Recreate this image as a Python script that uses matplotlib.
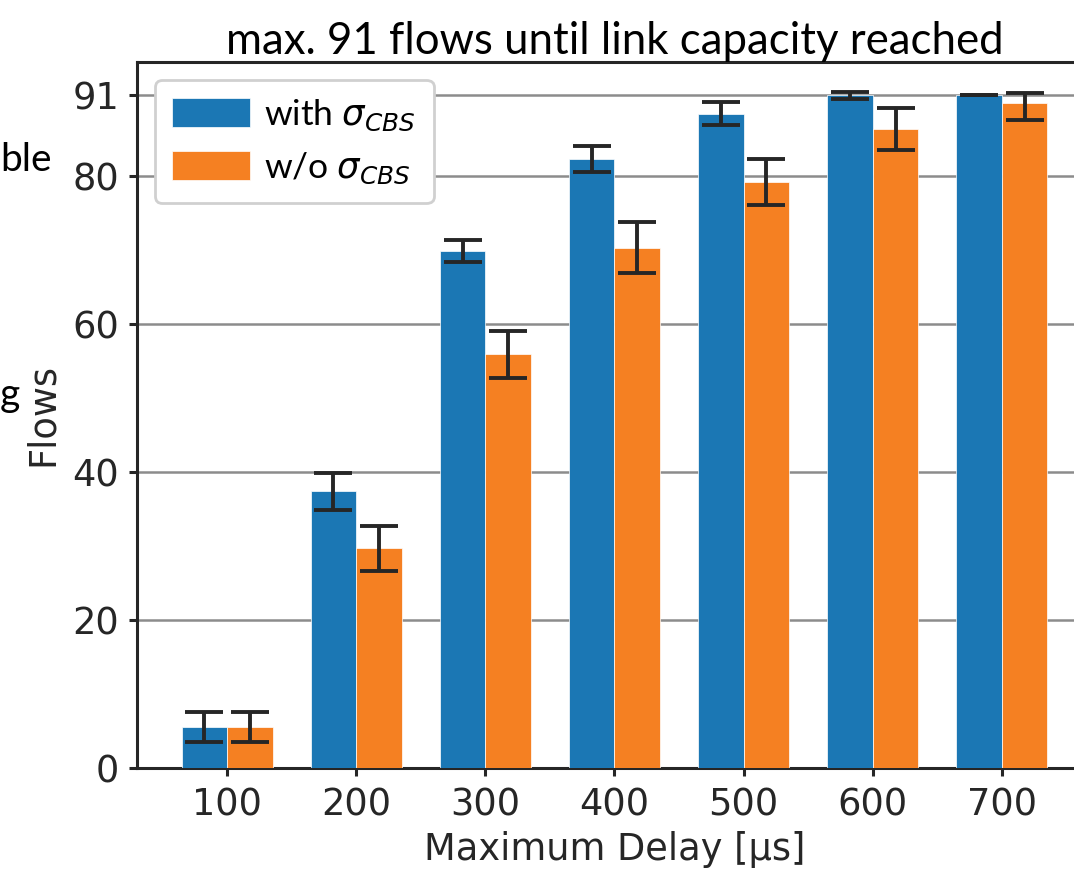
import numpy as np
import matplotlib.pyplot as plt

delays = [100, 200, 300, 400, 500, 600, 700]
with_cbs = [5.5, 37.4, 69.9, 82.3, 88.4, 90.9, 91.0]
with_cbs_err = [2.05, 2.5, 1.5, 1.7, 1.55, 0.45, 0.0]
without_cbs = [5.5, 29.7, 55.9, 70.3, 79.2, 86.4, 89.9]
without_cbs_err_lo = [2.05, 3.05, 3.2, 3.45, 3.1, 2.85, 2.3]
without_cbs_err_hi = [2.05, 3.05, 3.2, 3.45, 3.1, 2.85, 1.3]
yticks = [0, 20, 40, 60, 80, 91]

DARK = "#262626"
plt.rcParams["font.family"] = "DejaVu Sans"
plt.rcParams["mathtext.fontset"] = "dejavusans"

fig = plt.figure(figsize=(10.74, 8.69), dpi=100)
ax = fig.add_axes([137 / 1074, 1 - 768 / 869, (1092 - 137) / 1074, (768 - 62) / 869])

x = np.arange(len(delays))
w = 0.355
err_kw = dict(ecolor=DARK, elinewidth=2.8, capsize=13.5, capthick=2.8)
ax.bar(x - w / 2, with_cbs, w, yerr=with_cbs_err, color="#1b77b4",
       edgecolor="white", linewidth=0.5, label=r"with $\sigma_{CBS}$",
       error_kw=err_kw, zorder=3)
ax.bar(x + w / 2, without_cbs, w, yerr=[without_cbs_err_lo, without_cbs_err_hi],
       color="#f58022", edgecolor="white", linewidth=0.5, label=r"w/o $\sigma_{CBS}$",
       error_kw=err_kw, zorder=3)

ax.set_xlim(-0.7, 6.7)
ax.set_ylim(0, 95.4)
ax.set_xticks(x)
ax.set_xticklabels([str(d) for d in delays])
ax.set_yticks(yticks)
ax.grid(axis="y", color="#8c8c8c", linewidth=1.8, zorder=0)
ax.set_axisbelow(True)

for s in ["left", "bottom", "top"]:
    ax.spines[s].set_color(DARK)
    ax.spines[s].set_linewidth(2.2)
ax.spines["right"].set_visible(False)
ax.tick_params(axis="both", colors=DARK, labelsize=26.5, length=6, width=2.2, pad=7)

ax.set_xlabel("Maximum Delay [µs]", fontsize=26.5, color=DARK, labelpad=6)
ax.set_ylabel("Flows", fontsize=26.5, color=DARK, labelpad=8)

leg = ax.legend(loc="upper left", prop={"family": "Lato", "size": 25.5},
                handlelength=2.2, handleheight=0.9, handletextpad=0.4,
                borderpad=0.5, labelspacing=0.5,
                frameon=True, fancybox=True, framealpha=1, borderaxespad=0.5)
leg.get_frame().set_edgecolor("#d0d0d0")
leg.get_frame().set_linewidth(2)

ax.set_title("max. 91 flows until link capacity reached", family="Lato",
             fontsize=31.5, color="black", pad=6)

fig.text(0 / 1074, 1 - 160 / 869, "ble", family="Lato", fontsize=28,
         ha="left", va="center", color="black")
fig.text(0 / 1074, 1 - 395 / 869, "g", family="Lato", fontsize=28,
         ha="left", va="center", color="black")

fig.savefig("out.png", dpi=100)
